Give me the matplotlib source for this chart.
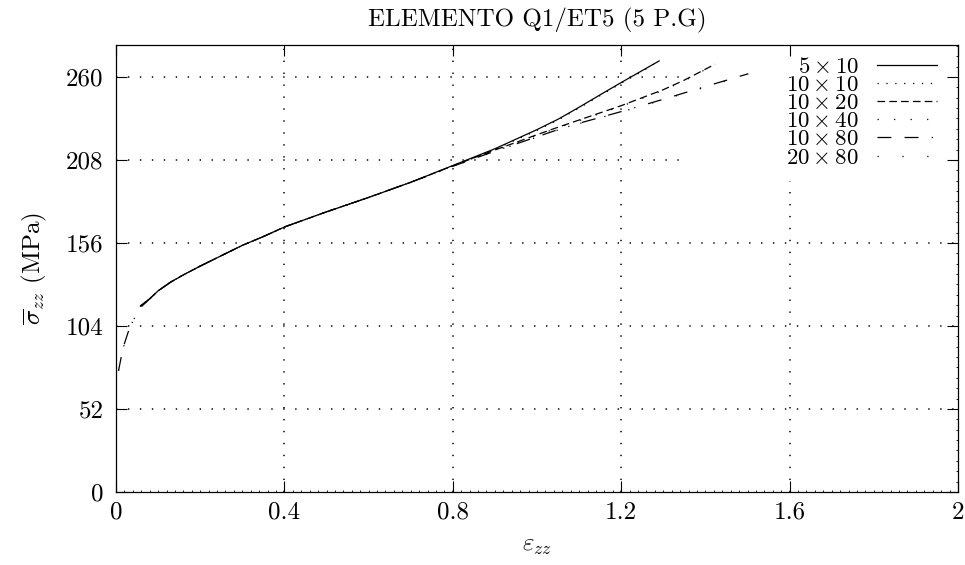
import numpy as np
import matplotlib
matplotlib.use("Agg")
import matplotlib.pyplot as plt

plt.rcParams['font.family'] = 'cmr10'
plt.rcParams['mathtext.fontset'] = 'cm'
plt.rcParams['axes.formatter.use_mathtext'] = True
plt.rcParams['lines.scale_dashes'] = False

# --- datos (eps_zz, sigma_zz [MPa]) ---
x_5x10 = [0.058, 0.07, 0.08, 0.1, 0.13, 0.16, 0.2, 0.25, 0.3, 0.35, 0.4, 0.5, 0.6, 0.7,
          0.8, 0.9, 1.0, 1.05, 1.1, 1.15, 1.2, 1.25, 1.29]
y_5x10 = [116.5, 119, 121, 126, 131.5, 136, 141.5, 148, 154.5, 160, 166, 175.5, 184.5, 194,
          204.5, 215, 227, 233.5, 241, 248.8, 256.5, 264, 270]

x_10x10 = [0.058, 0.07, 0.08, 0.1, 0.13, 0.16, 0.2, 0.25, 0.3, 0.35, 0.4, 0.5, 0.6, 0.7,
           0.8, 0.9, 1.0, 1.05, 1.1, 1.15, 1.2, 1.25, 1.285]
y_10x10 = [116.5, 119, 121, 126, 131.5, 136, 141.5, 148, 154.5, 160, 166, 175.5, 184.5, 194,
           204.3, 214.6, 226.5, 233, 240.5, 248.3, 256, 263.5, 269.3]

x_10x20 = [0.058, 0.07, 0.08, 0.1, 0.13, 0.16, 0.2, 0.25, 0.3, 0.35, 0.4, 0.5, 0.6, 0.7,
           0.8, 0.85, 0.9, 0.95, 1.0, 1.05, 1.1, 1.2, 1.3, 1.35, 1.423]
y_10x20 = [116.5, 119, 121, 126, 131.5, 136, 141.5, 148, 154.5, 160, 166, 175.5, 184.5, 194,
           204.3, 209.3, 214.2, 219, 223.8, 228.5, 233, 242, 252, 258, 268]

x_10x40 = [0.058, 0.07, 0.08, 0.1, 0.13, 0.16, 0.2, 0.25, 0.3, 0.35, 0.4, 0.5, 0.6, 0.7,
           0.8, 0.85, 0.9, 0.95, 1.0, 1.05, 1.1, 1.2, 1.3, 1.35, 1.42]
y_10x40 = [116.5, 119, 121, 126, 131.5, 136, 141.5, 148, 154.5, 160, 166, 175.5, 184.5, 194,
           204.2, 209.2, 214, 218.7, 223.5, 228.2, 232.6, 241.6, 251.6, 257.6, 267.5]

x_10x80 = [0.006, 0.012, 0.02, 0.03, 0.04, 0.05, 0.06, 0.08, 0.1, 0.13, 0.16, 0.2, 0.25,
           0.3, 0.35, 0.4, 0.5, 0.6, 0.7, 0.8, 0.85, 0.9, 0.95, 1.0, 1.05, 1.1, 1.15,
           1.2, 1.3, 1.4, 1.502]
y_10x80 = [76, 84, 93, 101, 107, 112, 116, 121, 126, 131.5, 136, 141.5, 148,
           154.5, 160, 166, 175.5, 184.5, 194, 204, 208.8, 213.5, 218, 222.5, 227, 231, 234.6,
           238.3, 246, 254, 262]

x_20x80 = [0.006, 0.012, 0.02, 0.03, 0.04, 0.05, 0.06, 0.08, 0.1, 0.13, 0.16, 0.2, 0.25,
           0.3, 0.35, 0.4, 0.5, 0.6, 0.7, 0.8, 0.85, 0.9, 0.95, 1.0, 1.05, 1.1, 1.15,
           1.2, 1.3, 1.4, 1.5]
y_20x80 = [76, 84, 93, 101, 107, 112, 116, 121, 126, 131.5, 136, 141.5, 148,
           154.5, 160, 166, 175.5, 184.5, 194, 204, 208.7, 213.3, 217.8, 222.3, 226.8, 230.8, 234.4,
           238, 245.7, 253.6, 261.5]

labels = [r'$5\times10$', r'$10\times10$', r'$10\times20$',
          r'$10\times40$', r'$10\times80$', r'$20\times80$']

x_ticks = [0, 0.4, 0.8, 1.2, 1.6, 2.0]
x_ticklabels = ['0', '0.4', '0.8', '1.2', '1.6', '2']
y_ticks = [0, 52, 104, 156, 208, 260]
y_ticklabels = ['0', '52', '104', '156', '208', '260']

series = [(x_5x10, y_5x10), (x_10x10, y_10x10), (x_10x20, y_10x20),
          (x_10x40, y_10x40), (x_10x80, y_10x80), (x_20x80, y_20x80)]
styles = ['-', (0, (0.9, 5.5)), (0, (5.5, 3)), (0, (0.9, 11)),
          (0, (10, 9.5, 10, 9.5, 0.9, 9.5)), (0, (0.9, 17))]

fig = plt.figure(figsize=(9.65, 5.65), dpi=100)
ax = fig.add_axes([116 / 965, 1 - 492 / 565, 842 / 965, 447 / 565])

# rejilla punteada (recortada donde va la leyenda, como en gnuplot)
grid_kw = dict(color='black', lw=1.1, ls=(0, (1.0, 7.6)), zorder=1)
key_left = 1.352 / 2.0
for yv in y_ticks[1:]:
    ax.axhline(yv, xmax=key_left if yv >= 208 else 1.0, **grid_kw)
for xv in x_ticks[1:-1]:
    ax.axvline(xv, ymax=195 / 280 if xv >= 1.6 else 1.0, **grid_kw)

for (xs, ys), ls, lab in zip(series, styles, labels):
    ax.plot(xs, ys, color='black', lw=0.9, ls=ls, label=lab, zorder=3)

ax.set_xlim(0, 2)
ax.set_ylim(0, 280)
ax.set_xticks(x_ticks)
ax.set_xticklabels(x_ticklabels)
ax.set_yticks(y_ticks)
ax.set_yticklabels(y_ticklabels)
ax.set_xticks(np.arange(0, 2.001, 0.02), minor=True)
ax.set_yticks(np.arange(0, 280, 6.5), minor=True)
ax.tick_params(which='major', direction='in', length=8, width=0.8,
               top=True, right=True, labelsize=18)
ax.tick_params(axis='x', which='major', pad=7)
ax.tick_params(axis='y', which='major', pad=9)
ax.tick_params(which='minor', direction='in', length=1.2, width=0.6,
               top=False, left=False, right=True)
for sp in ax.spines.values():
    sp.set_linewidth(0.9)

ax.set_title('ELEMENTO Q1/ET5 (5 P.G)', fontsize=18, pad=13)
ax.set_xlabel(r'$\varepsilon_{zz}$', fontsize=18, labelpad=8)
ax.set_ylabel(r'$\overline{\sigma}_{zz}$ (MPa)', fontsize=18, labelpad=12)

leg = ax.legend(loc='upper right', bbox_to_anchor=(0.975, 0.974), frameon=False,
                markerfirst=False, fontsize=16.5, handlelength=2.6, handletextpad=0.8,
                labelspacing=-0.08, borderpad=0, borderaxespad=0)

fig.savefig('out.png', dpi=100)
